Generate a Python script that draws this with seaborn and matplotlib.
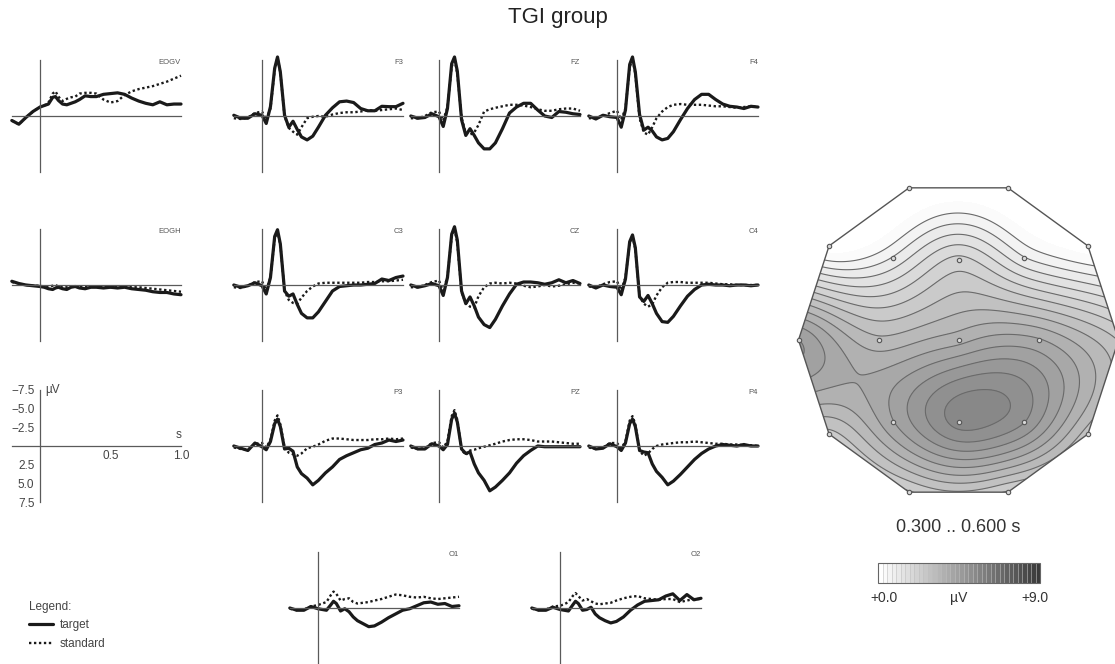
import numpy as np
import matplotlib
matplotlib.use("Agg")
import matplotlib.pyplot as plt
import seaborn as sns
from matplotlib.colors import LinearSegmentedColormap, BoundaryNorm
from matplotlib.patches import Polygon
from matplotlib import cm

# --- time axis (s) ---
T = [-0.2, -0.15, -0.1, -0.05, 0.0, 0.03, 0.06, 0.09, 0.11, 0.13, 0.16, 0.19, 0.22, 0.25, 0.28,
     0.32, 0.36, 0.4, 0.45, 0.5, 0.55, 0.6, 0.65, 0.7, 0.75, 0.8, 0.85, 0.9, 0.95, 1.0]

# --- ERP amplitudes (µV, negative up) ---
EOGV_TARGET = [0.6, 1.1, 0.2, -0.6, -1.2, -1.4, -1.6, -2.5, -2.6, -2.1, -1.6, -1.5, -1.7, -1.9, -2.2,
               -2.7, -2.6, -2.6, -2.9, -3.0, -3.1, -2.9, -2.4, -2.0, -1.7, -1.5, -1.9, -1.5, -1.6, -1.6]
EOGV_STANDARD = [0.6, 1.1, 0.2, -0.6, -1.2, -1.4, -1.8, -3.0, -3.3, -2.6, -2.0, -2.3, -2.5, -2.6, -3.0,
                 -3.1, -3.1, -3.0, -2.2, -1.8, -2.0, -2.8, -3.3, -3.6, -3.8, -4.0, -4.3, -4.6, -5.0, -5.4]
EOGH_TARGET = [-0.5, -0.2, 0.0, 0.1, 0.2, 0.3, 0.5, 0.6, 0.4, 0.3, 0.5, 0.6, 0.3, 0.2, 0.4,
               0.5, 0.3, 0.3, 0.4, 0.3, 0.4, 0.3, 0.5, 0.6, 0.7, 0.9, 1.0, 1.0, 1.2, 1.3]
EOGH_STANDARD = [-0.4, -0.2, 0.0, 0.1, 0.1, 0.2, 0.2, 0.1, 0.0, 0.2, 0.3, 0.3, 0.2, 0.2, 0.3,
                 0.2, 0.2, 0.2, 0.3, 0.3, 0.3, 0.2, 0.3, 0.3, 0.4, 0.5, 0.6, 0.7, 0.8, 0.9]
F3_TARGET = [-0.1, 0.3, 0.3, -0.3, -0.1, 1.0, -1.25, -6.4, -7.9, -5.9, -0.1, 1.5, 0.7, 1.8, 2.8,
             3.2, 2.7, 1.5, -0.1, -1.1, -1.9, -2.0, -1.8, -1.0, -0.7, -0.7, -1.3, -1.25, -1.25, -1.7]
F3_STANDARD = [0.3, 0.4, 0.2, -0.4, -0.6, 0.5, -1.0, -6.2, -7.8, -5.8, 0.0, 1.6, 2.1, 2.5, 1.5,
               0.3, 0.1, 0.0, 0.1, -0.2, -0.4, -0.5, -0.5, -0.6, -0.8, -0.7, -0.8, -0.9, -1.0, -0.8]
FZ_TARGET = [0.0, 0.3, 0.2, -0.3, 0.1, 1.4, -1.0, -7.0, -7.9, -6.0, 0.5, 2.6, 1.7, 2.6, 3.6,
             4.4, 4.4, 3.6, 1.7, -0.4, -1.2, -1.7, -1.7, -0.8, 0.0, 0.2, -0.6, -0.5, -0.3, -0.2]
FZ_STANDARD = [0.3, 0.3, 0.0, -0.5, -0.6, 0.6, -1.2, -6.6, -7.7, -5.6, 0.2, 2.3, 2.5, 2.2, 1.2,
               -0.6, -0.9, -1.1, -1.3, -1.5, -1.5, -1.4, -1.2, -0.9, -0.7, -0.7, -0.9, -1.0, -1.0, -0.7]
F4_TARGET = [0.0, 0.4, -0.1, 0.1, 0.2, 1.5, -0.8, -6.9, -7.9, -5.9, -0.2, 1.9, 1.5, 2.0, 2.8,
             3.2, 3.0, 2.1, 0.5, -1.0, -2.2, -2.9, -2.9, -2.2, -1.6, -1.3, -1.2, -1.0, -1.3, -1.2]
F4_STANDARD = [0.3, 0.3, 0.0, -0.4, -0.7, 0.5, -1.0, -6.5, -7.7, -5.6, 0.3, 2.2, 2.5, 1.5, 0.3,
               -0.6, -1.2, -1.5, -1.6, -1.5, -1.5, -1.5, -1.4, -1.3, -1.3, -1.2, -1.1, -1.2, -1.3, -1.2]
C3_TARGET = [0.0, 0.3, 0.1, -0.3, 0.1, 1.2, -1.0, -6.5, -7.4, -5.5, 0.8, 1.5, 1.2, 2.6, 3.8,
             4.4, 4.4, 3.6, 2.2, 0.8, 0.2, 0.1, 0.0, 0.0, -0.1, -0.2, -0.8, -0.6, -1.0, -1.2]
C3_STANDARD = [0.3, 0.4, 0.1, -0.4, -0.5, 0.7, -1.0, -6.2, -7.2, -5.4, 0.8, 2.0, 2.4, 2.5, 1.7,
               0.8, 0.2, -0.2, -0.3, -0.3, -0.3, -0.3, -0.3, -0.3, -0.4, -0.4, -0.5, -0.5, -0.6, -0.7]
CZ_TARGET = [0.0, 0.3, 0.1, -0.2, 0.1, 1.4, -1.0, -6.8, -7.8, -6.0, 0.8, 2.5, 1.6, 2.8, 4.3,
             5.3, 5.7, 4.6, 2.8, 1.2, -0.1, -0.4, -0.4, -0.3, -0.1, -0.3, -0.7, -0.3, -0.6, -0.2]
CZ_STANDARD = [0.3, 0.3, 0.0, -0.4, -0.6, 0.8, -1.1, -6.5, -7.5, -5.6, 1.0, 2.4, 2.9, 3.0, 1.5,
               0.3, -0.2, -0.3, -0.2, -0.3, -0.2, 0.1, 0.3, 0.2, 0.0, 0.2, 0.1, -0.1, -0.3, -0.2]
C4_TARGET = [0.0, 0.4, 0.0, 0.2, 0.3, 1.3, -0.8, -5.8, -6.7, -5.0, 1.6, 2.2, 1.4, 2.5, 3.8,
             4.9, 5.0, 4.2, 2.8, 1.5, 0.6, 0.0, -0.1, 0.0, 0.0, 0.1, 0.0, 0.0, 0.1, 0.0]
C4_STANDARD = [0.2, 0.3, -0.1, -0.4, -0.5, 0.7, -1.0, -5.6, -6.5, -4.8, 1.5, 2.5, 2.9, 2.6, 1.4,
               0.3, -0.3, -0.4, -0.4, -0.3, -0.3, -0.3, -0.3, -0.2, -0.1, -0.1, 0.0, 0.0, 0.0, 0.0]
P3_TARGET = [0.0, 0.3, 0.6, -0.4, 0.1, 0.5, -0.6, -3.0, -3.6, -2.6, 0.4, 0.3, 0.7, 2.8, 3.7,
             4.3, 5.2, 4.6, 3.6, 2.8, 1.8, 1.3, 0.9, 0.5, 0.3, -0.2, -0.4, -0.8, -0.6, -0.8]
P3_STANDARD = [0.2, 0.4, 0.5, -0.3, -0.4, 0.2, -0.8, -3.4, -4.1, -2.9, 0.2, 0.9, 1.1, 1.3, 1.0,
               0.3, 0.1, -0.2, -0.7, -1.0, -1.0, -0.9, -0.8, -0.8, -0.8, -0.9, -0.9, -1.0, -0.9, -1.0]
PZ_TARGET = [0.0, 0.4, 0.4, -0.3, 0.0, 0.5, -0.2, -3.6, -4.4, -3.2, 0.4, 1.0, 0.8, 2.4, 3.6,
             4.6, 6.0, 5.5, 4.6, 3.6, 2.3, 1.3, 0.6, 0.0, 0.1, 0.1, 0.1, 0.1, 0.1, 0.1]
PZ_STANDARD = [0.2, 0.4, 0.3, -0.4, -0.5, 0.2, -0.6, -4.0, -4.8, -3.5, 0.5, 1.2, 0.6, 0.5, 0.3,
               0.1, -0.1, -0.3, -0.6, -0.8, -0.9, -0.9, -0.8, -0.6, -0.6, -0.6, -0.5, -0.4, -0.3, -0.3]
P4_TARGET = [0.0, 0.4, 0.3, -0.3, 0.1, 0.6, -0.4, -3.0, -3.6, -2.6, 0.6, 0.8, 0.9, 2.4, 3.4,
             4.2, 5.2, 4.7, 3.8, 2.8, 1.8, 1.0, 0.4, 0.0, -0.2, -0.1, 0.0, -0.2, 0.0, 0.0]
P4_STANDARD = [0.2, 0.4, 0.2, -0.4, -0.4, 0.3, -0.6, -3.4, -4.0, -2.9, 0.6, 1.3, 1.0, 0.4, 0.0,
               -0.2, -0.3, -0.4, -0.5, -0.5, -0.6, -0.5, -0.4, -0.3, -0.3, -0.2, -0.2, -0.1, -0.1, 0.0]
O1_TARGET = [0.0, 0.3, 0.3, -0.2, 0.1, 0.2, 0.3, -0.4, -0.9, -0.6, 0.4, 0.1, 0.5, 1.2, 1.7,
             2.1, 2.5, 2.4, 1.9, 1.3, 0.8, 0.3, 0.1, -0.3, -0.7, -0.8, -0.5, -0.6, -0.2, -0.3]
O1_STANDARD = [0.1, 0.3, 0.2, -0.2, -0.4, -0.6, -0.8, -1.7, -2.2, -1.9, -1.0, -1.2, -1.3, -0.8, -0.6,
               -0.7, -0.8, -1.0, -1.2, -1.5, -1.8, -1.7, -1.5, -1.4, -1.5, -1.3, -1.2, -1.3, -1.4, -1.5]
O2_TARGET = [0.0, 0.3, 0.3, -0.1, 0.2, 0.3, 0.4, -0.4, -0.9, -0.6, 0.3, 0.2, -0.1, 0.8, 1.3,
             1.7, 2.0, 1.8, 1.2, 0.3, -0.4, -0.9, -1.0, -1.1, -1.6, -1.9, -1.0, -1.8, -1.1, -1.3]
O2_STANDARD = [0.1, 0.3, 0.2, -0.2, -0.3, -0.5, -0.8, -1.6, -2.0, -1.6, -1.0, -1.2, -0.9, -0.6, -0.5,
               -0.6, -0.7, -1.0, -1.3, -1.5, -1.6, -1.3, -1.2, -1.1, -1.2, -1.2, -0.8, -1.0, -1.2, -1.2]

# --- topographic map, mean 0.300 .. 0.600 s (µV) ---
ELEC_NAMES = ["F3", "FZ", "F4", "C3", "CZ", "C4", "P3", "PZ", "P4"]
ELEC_X = [-0.41, 0.0, 0.41, -0.5, 0.0, 0.5, -0.41, 0.0, 0.41]
ELEC_Y = [0.51, 0.5, 0.51, 0.0, 0.0, 0.0, -0.51, -0.51, -0.51]
ELEC_V = [0.8, 2.0, 0.8, 3.1, 3.6, 3.8, 4.1, 5.4, 4.9]
RIM_ANGLE = [0, 36, 72, 108, 144, 180, 216, 252, 288, 324]
RIM_V = [2.6, -0.3, -0.8, -0.8, -0.3, 4.5, 2.5, 2.2, 2.2, 2.8]

# --- layout (pixel positions of each panel origin) ---
W, H = 1115, 664
PX_S, PX_UV = 141.0, 7.47
PANELS = {
    "EOGV": (40, 116), "F3": (262, 116), "FZ": (439, 116), "F4": (617, 116),
    "EOGH": (40, 285), "C3": (262, 285), "CZ": (439, 285), "C4": (617, 285),
    "P3": (262, 446), "PZ": (439, 446), "P4": (617, 446),
    "O1": (318, 608), "O2": (560, 608),
}
DATA = {
    "EOGV": (EOGV_TARGET, EOGV_STANDARD), "EOGH": (EOGH_TARGET, EOGH_STANDARD),
    "F3": (F3_TARGET, F3_STANDARD), "FZ": (FZ_TARGET, FZ_STANDARD), "F4": (F4_TARGET, F4_STANDARD),
    "C3": (C3_TARGET, C3_STANDARD), "CZ": (CZ_TARGET, CZ_STANDARD), "C4": (C4_TARGET, C4_STANDARD),
    "P3": (P3_TARGET, P3_STANDARD), "PZ": (PZ_TARGET, PZ_STANDARD), "P4": (P4_TARGET, P4_STANDARD),
    "O1": (O1_TARGET, O1_STANDARD), "O2": (O2_TARGET, O2_STANDARD),
}
X_TICKS = [-0.2, -0.1, 0.0, 0.1, 0.2, 0.3, 0.4, 0.5, 0.6, 0.7, 0.8, 0.9, 1.0]
Y_TICKS = [-7.5, -5.0, -2.5, 2.5, 5.0, 7.5]
AXIS_COL = "#5a5a5a"
LINE_COL = "#1a1a1a"

sns.set_style("white")
plt.rcParams["font.family"] = ["Liberation Sans", "DejaVu Sans"]


def px_axes(fig, left, top, width, height):
    return fig.add_axes([left / W, 1 - (top + height) / H, width / W, height / H])


def erp_axes(fig, x0, y0):
    xl, xr, ylim = -0.26, 1.06, 10.0
    ax = px_axes(fig, x0 + xl * PX_S, y0 - ylim * PX_UV, (xr - xl) * PX_S, 2 * ylim * PX_UV)
    ax.set_xlim(xl, xr)
    ax.set_ylim(ylim, -ylim)
    ax.patch.set_alpha(0)
    for s in ["top", "right"]:
        ax.spines[s].set_visible(False)
    for s in ["left", "bottom"]:
        ax.spines[s].set_position(("data", 0))
        ax.spines[s].set_color(AXIS_COL)
        ax.spines[s].set_linewidth(0.9)
    ax.spines["left"].set_bounds(-7.5, 7.5)
    ax.spines["bottom"].set_bounds(-0.2, 1.0)
    ax.set_xticks(X_TICKS)
    ax.set_yticks(Y_TICKS)
    ax.tick_params(axis="y", direction="inout", length=6, width=0.8, color=AXIS_COL,
                   labelleft=False)
    ax.tick_params(axis="x", direction="inout", length=4, width=0.8, color=AXIS_COL,
                   labelbottom=False)
    return ax


fig = plt.figure(figsize=(W / 100, H / 100), dpi=100)

line_handles = None
for name, (x0, y0) in PANELS.items():
    ax = erp_axes(fig, x0, y0)
    target, standard = DATA[name]
    sns.lineplot(x=T, y=standard, ax=ax, color=LINE_COL, linewidth=1.7,
                 linestyle=(0, (1, 1.1)), label="standard", legend=False)
    sns.lineplot(x=T, y=target, ax=ax, color=LINE_COL, linewidth=2.3,
                 label="target", legend=False)
    ax.text(1.0, -7.2, name, ha="right", va="center", fontsize=5.5, color="#555555")
    if line_handles is None:
        line_handles = ax.get_lines()[::-1]

# scale panel
ax = erp_axes(fig, 40, 446)
ax.tick_params(axis="y", labelleft=True, labelsize=8.5, labelcolor="#444444", pad=1)
ax.set_yticklabels(["\u22127.5", "\u22125.0", "\u22122.5", "2.5", "5.0", "7.5"])
ax.tick_params(axis="x", labelbottom=True, labelsize=8.5, labelcolor="#444444", pad=1)
ax.set_xticklabels(["" if t not in (0.5, 1.0) else f"{t:.1f}" for t in X_TICKS])
ax.text(0.035, -7.5, "\u00b5V", ha="left", va="center", fontsize=8.5, color="#444444")
ax.text(1.0, -0.7, "s", ha="right", va="bottom", fontsize=8.5, color="#444444")

# title
fig.text(0.5, 1 - 18 / H, "TGI group", ha="center", va="center", fontsize=16, color="#222222")

# legend
fig.legend(line_handles, ["target", "standard"], title="Legend:", loc="upper left",
           bbox_to_anchor=(29 / W, 1 - 601 / H), frameon=False, alignment="left",
           fontsize=8.5, title_fontsize=8.5, handlelength=2.0, handletextpad=0.6,
           labelspacing=0.55, borderpad=0, borderaxespad=0)
leg = fig.legends[0]
leg.get_title().set_color("#444444")
for t in leg.get_texts():
    t.set_color("#444444")

# --- topographic map (thin-plate spline through electrode values) ---
rim_x = np.cos(np.radians(RIM_ANGLE))
rim_y = np.sin(np.radians(RIM_ANGLE))
px = np.concatenate([ELEC_X, rim_x])
py = np.concatenate([ELEC_Y, rim_y])
pv = np.concatenate([ELEC_V, RIM_V])


def tps_kernel(r):
    with np.errstate(divide="ignore", invalid="ignore"):
        k = r ** 2 * np.log(r)
    return np.where(r > 0, k, 0.0)


n = len(pv)
d = np.hypot(px[:, None] - px[None, :], py[:, None] - py[None, :])
P = np.column_stack([np.ones(n), px, py])
A = np.zeros((n + 3, n + 3))
A[:n, :n] = tps_kernel(d)
A[:n, n:] = P
A[n:, :n] = P.T
coef = np.linalg.solve(A, np.concatenate([pv, np.zeros(3)]))

g = np.linspace(-1.05, 1.05, 320)
GX, GY = np.meshgrid(g, g)
dg = np.hypot(GX[..., None] - px, GY[..., None] - py)
Z = tps_kernel(dg) @ coef[:n] + coef[n] + coef[n + 1] * GX + coef[n + 2] * GY

cmap = LinearSegmentedColormap.from_list("greys_map", ["#ffffff", "#3a3a3a"])
levels = np.arange(0, 9.001, 0.375)

R = 160.0
cx, cy = 958.5, 340.0
span = 1.1
tax = px_axes(fig, cx - span * R, cy - span * R, 2 * span * R, 2 * span * R)
tax.set_xlim(-span, span)
tax.set_ylim(-span, span)
tax.axis("off")
tax.patch.set_alpha(0)

poly = Polygon(np.column_stack([rim_x, rim_y]), closed=True, facecolor="none",
               edgecolor="#555555", linewidth=1.0, zorder=4)
tax.add_patch(poly)
cf = tax.contourf(GX, GY, Z, levels=levels, cmap=cmap, extend="both")
cf.set_clip_path(poly)
cl = tax.contour(GX, GY, Z, levels=levels[1:], colors="#6a6a6a", linewidths=0.8)
cl.set_clip_path(poly)
sns.scatterplot(x=list(ELEC_X) + list(rim_x), y=list(ELEC_Y) + list(rim_y), ax=tax, s=10,
                color="#d8d8d8", edgecolor="#555555", linewidth=0.8, zorder=5, legend=False)
tax.set_xlim(-span, span)
tax.set_ylim(-span, span)

fig.text(cx / W, 1 - 527 / H, "0.300 .. 0.600 s", ha="center", va="center", fontsize=13,
         color="#333333")

# colour bar
cax = px_axes(fig, 878, 563, 162, 20)
cb_levels = np.arange(0, 9.001, 0.25)
cb = fig.colorbar(cm.ScalarMappable(norm=BoundaryNorm(cb_levels, cmap.N), cmap=cmap), cax=cax,
                  orientation="horizontal", drawedges=True)
cb.dividers.set_color("#c0c0c0")
cb.dividers.set_linewidth(0.4)
cb.outline.set_edgecolor("#666666")
cb.outline.set_linewidth(0.8)
cb.set_ticks([])
cax.minorticks_off()
cax.tick_params(length=0, which="both")
for xpix, txt in [(884, "+0.0"), (959, "\u00b5V"), (1035, "+9.0")]:
    fig.text(xpix / W, 1 - 598 / H, txt, ha="center", va="center", fontsize=10, color="#333333")

fig.savefig("out.png", dpi=100)
